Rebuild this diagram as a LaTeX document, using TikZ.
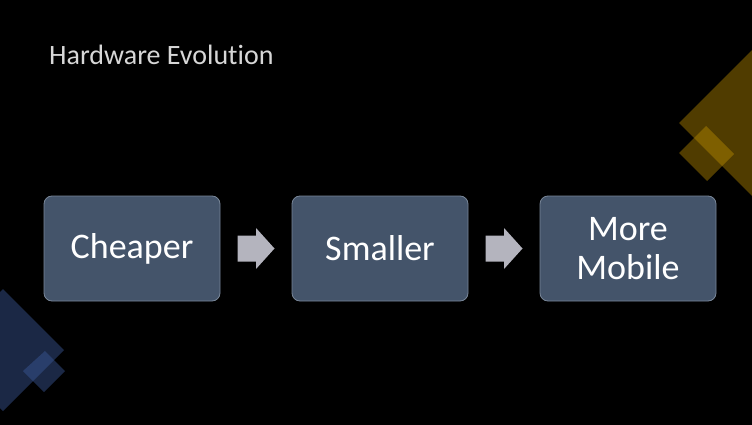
\documentclass[tikz,border=0pt]{standalone}
\usepackage{fontspec}
\usetikzlibrary{calc}
\setmainfont[RawFeature=-liga]{Carlito}
\definecolor{boxfill}{RGB}{68,84,106}
\definecolor{boxline}{RGB}{120,134,152}
\definecolor{arrowgray}{RGB}{180,180,190}
\definecolor{goldc}{RGB}{192,144,0}
\definecolor{bluec}{RGB}{60,90,154}
\definecolor{titlec}{RGB}{215,215,215}
\tikzset{
  stepbox/.style={draw=boxline, line width=0.8pt, fill=boxfill, rounded corners=8pt,
    minimum width=176pt, minimum height=105pt, inner sep=0pt, text=white,
    align=center, font=\fontsize{36}{39}\selectfont},
  blockarrow/.style={fill=arrowgray},
  golddeco/.style={fill=goldc, fill opacity=0.42},
  bluedeco/.style={fill=bluec, fill opacity=0.45},
}
\newcommand\myblockarrow[1]{\fill[blockarrow,shift={(#1)}] (-18.5,-13) -- (0,-13) -- (0,-20.5) -- (18.5,0) -- (0,20.5) -- (0,13) -- (-18.5,13) -- cycle;}
\begin{document}
\begin{tikzpicture}[x=1pt,y=-1pt]
\fill[black] (0,0) rectangle (752,425);
\useasboundingbox (0,0) rectangle (752,425);
\begin{scope}
\clip (0,0) rectangle (752,425);
% decorations top right (gold)
\path[golddeco] (679,123) -- (800,2) -- (921,123) -- (800,244) -- cycle;
\path[golddeco] (679,153) -- (706,126) -- (734,154) -- (707,181) -- cycle;
% decorations bottom left (blue)
\path[bluedeco] (64,350) -- (3,289) -- (-58,350) -- (3,411) -- cycle;
\path[bluedeco] (45,351) -- (65,371) -- (44,392) -- (23,371) -- cycle;
\end{scope}
% title
\node[anchor=base west, inner sep=0pt, text=titlec, font=\fontsize{28}{32}\selectfont] (title) at (49,65) {Hardware Evolution};
% boxes
\node[stepbox] (b1) at (132,248.5) {Cheaper};
\node[stepbox] (b2) at (380,248.5) {Smaller};
\node[stepbox] (b3) at (628,248.5) {More\\Mobile};
% arrows
\coordinate (a1) at ($(b1.east)!0.5!(b2.west)$);
\coordinate (a2) at ($(b2.east)!0.5!(b3.west)$);
\myblockarrow{a1}
\myblockarrow{a2}
\end{tikzpicture}
\end{document}
